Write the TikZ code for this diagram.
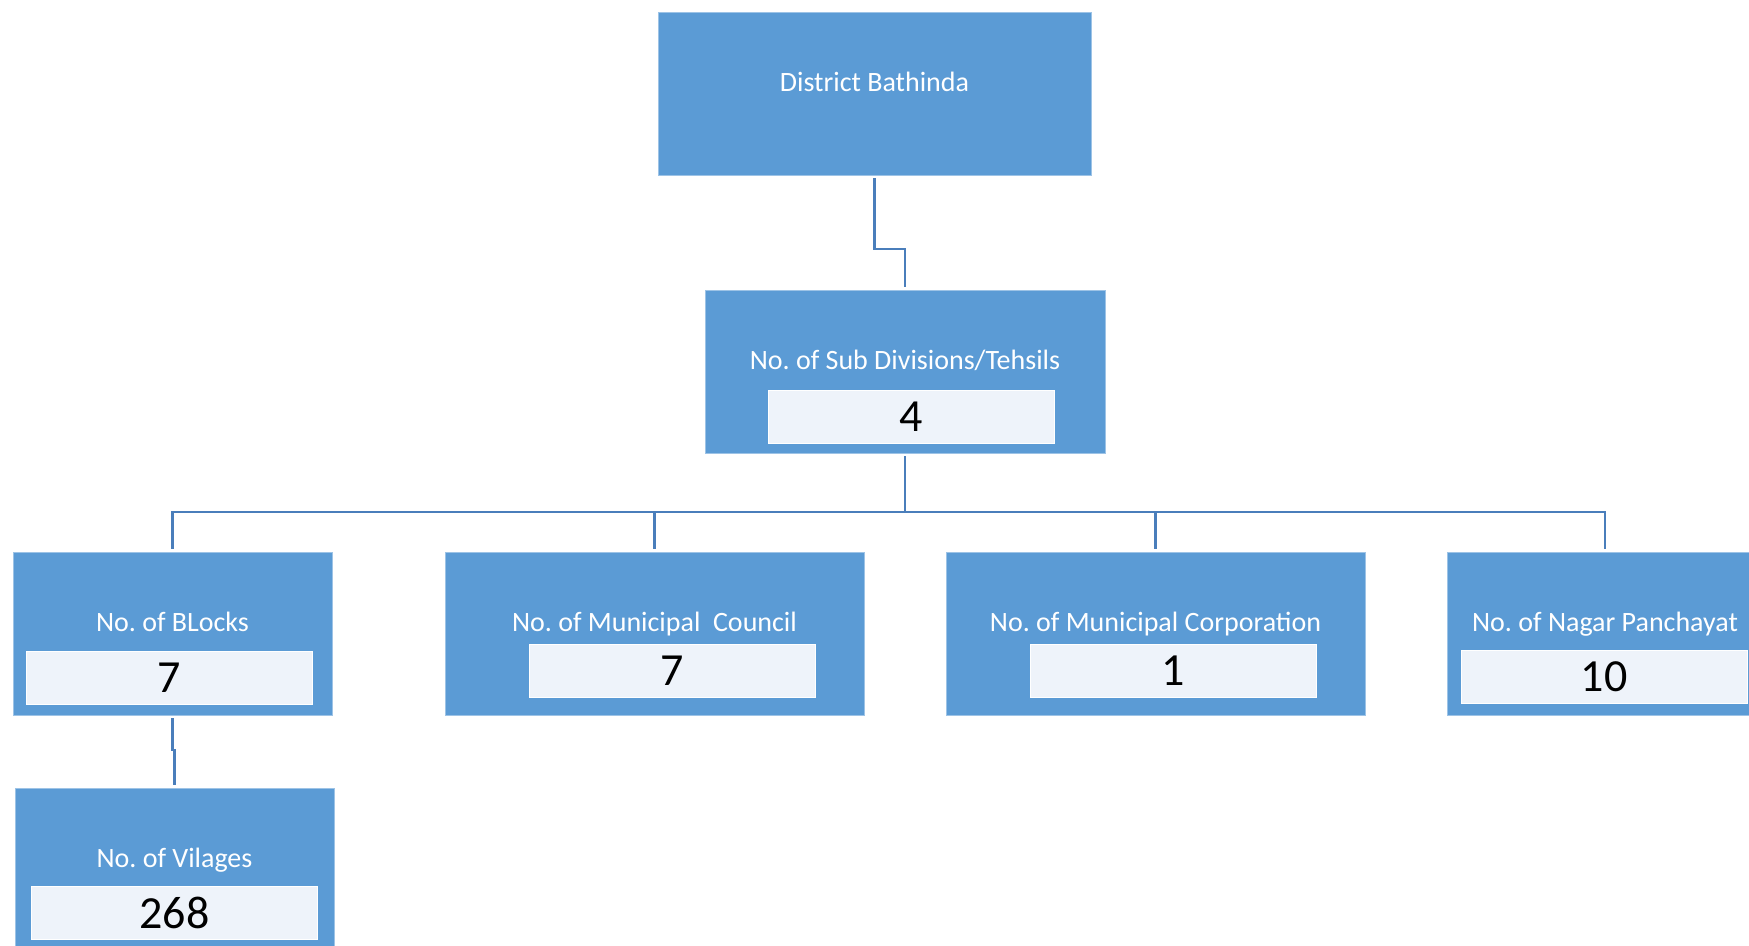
\documentclass[tikz,border=0pt]{standalone}
\usepackage{fontspec}
\setmainfont{Carlito}
\usepackage{xcolor}
\usepackage{tikz}
\usetikzlibrary{arrows,shapes,positioning}
\definecolor{boxblue}{HTML}{5B9BD5}
\definecolor{boxedge}{HTML}{9DC3E6}
\definecolor{countfill}{HTML}{EEF3FA}
\definecolor{linkblue}{HTML}{4A7EBB}
\frenchspacing
\tikzset{
	basic/.style = {rectangle, fill=boxblue, draw=boxedge, line width=0.4pt, inner sep=0pt, text=white, font=\fontsize{14}{16}\selectfont, text height=8pt, text depth=10pt, minimum height=81.5pt},
	root/.style = {basic, minimum width=216.5pt},
	sub/.style = {basic, minimum width=200pt},
	unit/.style = {basic, minimum width=159.5pt},
	wide unit/.style = {basic, minimum width=209.5pt},
	count/.style = {rectangle, fill=countfill, draw=white, line width=0.4pt, inner sep=0pt, text=black, font=\fontsize{23}{26}\selectfont, minimum width=143pt, minimum height=26.5pt},
	link/.style = {draw=linkblue, line width=1.3pt, shorten <=1.5pt, shorten >=1.5pt}
}

\begin{document}
\begin{tikzpicture}[x=0.5pt, y=-0.5pt]
			\clip (0,0) rectangle (1749,946);
			
			% root of the chart
			\node[root] (dist) at (874.5,93.5) {District Bathinda};
			% second level with its count
			\node[sub] (subdiv) at (905,371.5) {No. of Sub Divisions/Tehsils};
			\node[count] (subdiv-n) at (911,416.5) {4};
			% third level, as children of the sub divisions
			\node[unit] (blocks) at (172.5,633.5) {No. of BLocks};
			\node[count] (blocks-n) at (169,677.5) {7};
			\node[wide unit] (council) at (654.5,633.5) {No. of Municipal~ Council};
			\node[count] (council-n) at (672.5,671) {7};
			\node[wide unit] (corp) at (1155.5,633.5) {No. of Municipal Corporation};
			\node[count] (corp-n) at (1173,671) {1};
			\node[unit, minimum width=158pt] (nagar) at (1605,633.5) {No. of Nagar Panchayat};
			\node[count] (nagar-n) at (1604,677) {10};
			% last level under the blocks
			\node[unit] (vill) at (174.5,869.5) {No. of Vilages};
			\node[count] (vill-n) at (174.5,913) {268};
			
			% connectors
			\coordinate (e1) at (905,249);
			\coordinate (bus) at (905,512);
			\coordinate (e2) at (174.5,750);
			\draw[link] (dist.south) |- (e1) -| (subdiv.north);
			\draw[link, shorten >=0pt] (subdiv.south) -- (bus);
			\foreach \c in {blocks,council,corp,nagar}
				\draw[link, shorten <=0pt] (bus) -| (\c.north);
			\draw[link] (blocks.south) |- (e2) -| (vill.north);
		\end{tikzpicture}
\end{document}
